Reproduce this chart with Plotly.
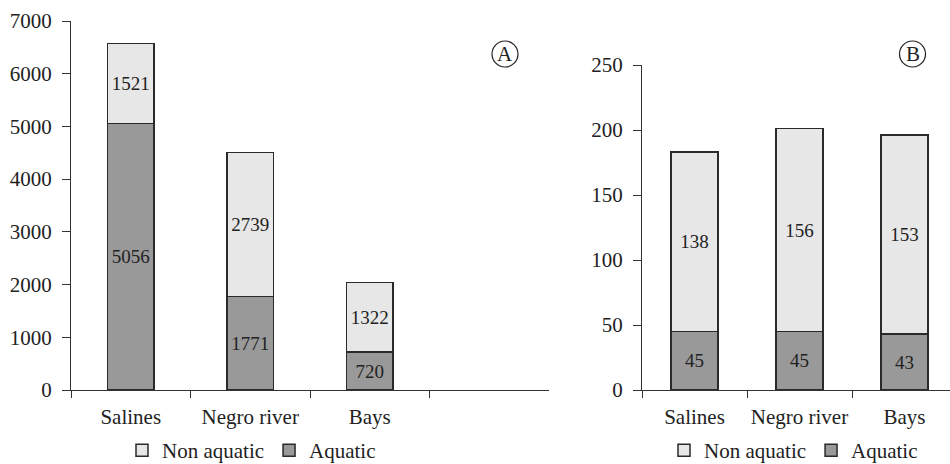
import plotly.graph_objects as go

# Bird counts by environment
sites = ["Salines", "Negro river", "Bays"]
spacer = " "  # empty fourth slot on panel A's axis

abundance_non_aquatic = [1521, 2739, 1322]
abundance_aquatic = [5056, 1771, 720]

richness_non_aquatic = [138, 156, 153]
richness_aquatic = [45, 45, 43]

y_ticks_a = [0, 1000, 2000, 3000, 4000, 5000, 6000, 7000]
y_ticks_b = [0, 50, 100, 150, 200, 250]

W, H = 950, 464
FONT = "Liberation Serif"
TXT = "#222222"
LIGHT = "#e7e7e7"
DARK = "#999999"
EDGE = "#2a2a2a"


def px(x):
    return x / W


def py(y):
    return 1 - y / H


fig = go.Figure()


def add_panel(xa, ya, legend, nonaq, aq, width):
    fig.add_trace(go.Bar(
        x=sites, y=aq, name="Aquatic", xaxis=xa, yaxis=ya, legend=legend,
        width=width, legendrank=2,
        marker=dict(color=DARK, line=dict(color=EDGE, width=1.5)),
        text=[str(v) for v in aq], textposition="inside",
        insidetextanchor="middle", textangle=0,
        insidetextfont=dict(family=FONT, size=19, color=TXT),
        hoverinfo="skip",
    ))
    fig.add_trace(go.Bar(
        x=sites, y=nonaq, name="Non aquatic", xaxis=xa, yaxis=ya, legend=legend,
        width=width, legendrank=1,
        marker=dict(color=LIGHT, line=dict(color=EDGE, width=1.5)),
        text=[str(v) for v in nonaq], textposition="inside",
        insidetextanchor="middle", textangle=0,
        insidetextfont=dict(family=FONT, size=19, color=TXT),
        hoverinfo="skip",
    ))


add_panel("x", "y", "legend", abundance_non_aquatic, abundance_aquatic, 0.393)
add_panel("x2", "y2", "legend2", richness_non_aquatic, richness_aquatic, 0.448)

axis_common = dict(
    showgrid=False, zeroline=False, showline=True, linecolor="#333333",
    linewidth=1.3, ticks="outside", tickcolor="#333333", tickwidth=1.3,
    tickfont=dict(family=FONT, size=21, color=TXT), automargin=False,
    tickangle=0,
)

legend_common = dict(
    orientation="h", xanchor="left", yanchor="bottom", traceorder="normal",
    font=dict(family=FONT, size=21, color=TXT), bgcolor="rgba(0,0,0,0)",
    itemwidth=30,
)

fig.update_layout(
    width=W, height=H,
    margin=dict(l=0, r=0, t=0, b=0, autoexpand=False),
    paper_bgcolor="white", plot_bgcolor="white",
    barmode="stack",
    xaxis=dict(
        **axis_common, domain=[px(71), px(549)], anchor="y",
        type="category", categoryorder="array",
        categoryarray=sites + [spacer], range=[-0.5, 3.5],
        tickson="boundaries", ticklen=7, ticklabelstandoff=8,
    ),
    yaxis=dict(
        **axis_common, domain=[py(390), py(21)], anchor="x",
        range=[0, 7000], tickvals=y_ticks_a, ticklen=8, ticklabelstandoff=6,
    ),
    xaxis2=dict(
        **axis_common, domain=[px(642), 1.0], anchor="y2",
        type="category", categoryorder="array", categoryarray=sites,
        range=[-0.5, 2.5 - 7 / 105], tickson="boundaries", ticklen=7,
        ticklabelstandoff=8,
    ),
    yaxis2=dict(
        **axis_common, domain=[py(390), py(65)], anchor="x2",
        range=[0, 250], tickvals=y_ticks_b, ticklen=8, ticklabelstandoff=6,
    ),
    legend=dict(**legend_common, x=px(122), y=-7 / H),
    legend2=dict(**legend_common, x=px(664), y=-7 / H),
)

# Circled panel letters
for letter, cx, cy in [("A", 505, 54), ("B", 912.5, 54)]:
    fig.add_shape(type="circle", xref="paper", yref="paper",
                  xsizemode="pixel", ysizemode="pixel",
                  xanchor=px(cx), yanchor=py(cy),
                  x0=-13, x1=13, y0=-13, y1=13,
                  line=dict(color="#222222", width=1.2))
    fig.add_annotation(text=letter, xref="paper", yref="paper",
                       x=px(cx), y=py(cy), xanchor="center", yanchor="middle",
                       showarrow=False,
                       font=dict(family=FONT, size=21, color=TXT))

fig.write_html("out.html")
